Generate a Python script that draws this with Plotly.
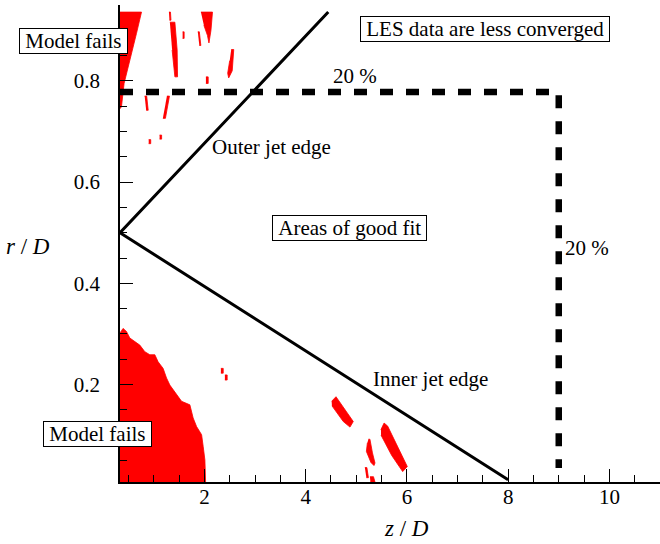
import plotly.graph_objects as go

# ---------------- data (z/D, r/D) ----------------
# Large failing region near the nozzle centreline
fail_core_z = [0.333, 0.333, 0.394, 0.461, 0.527, 0.625, 0.724, 0.823, 0.922, 1.021, 1.086, 1.185,
               1.252, 1.318, 1.417, 1.549, 1.713, 1.778, 1.846, 1.945, 1.976, 2.010, 2.024]
fail_core_r = [0.0075, 0.302, 0.311, 0.305, 0.292, 0.285, 0.278, 0.265, 0.259, 0.259, 0.245, 0.232,
               0.213, 0.199, 0.186, 0.167, 0.160, 0.134, 0.117, 0.101, 0.078, 0.051, 0.0075]

# Failing wedge at the top-left (outer region)
fail_wedge_z = [0.333, 0.758, 0.659, 0.493, 0.414, 0.362, 0.333]
fail_wedge_r = [0.936, 0.936, 0.894, 0.828, 0.795, 0.749, 0.745]

# Small scattered failing patches
patch1_z = [1.318, 1.417, 1.462, 1.470, 1.417, 1.363]
patch1_r = [0.916, 0.916, 0.861, 0.808, 0.808, 0.861]
patch2_z = [1.300, 1.330, 1.340, 1.310]
patch2_r = [0.936, 0.936, 0.920, 0.920]
patch3_z = [1.931, 2.160, 2.130, 2.090, 2.060, 1.990]
patch3_r = [0.936, 0.936, 0.900, 0.875, 0.890, 0.910]
patch4_z = [1.870, 1.900, 1.930, 1.900]
patch4_r = [0.897, 0.897, 0.870, 0.870]
patch5_z = [1.570, 1.600, 1.600, 1.570]
patch5_r = [0.897, 0.897, 0.884, 0.884]
patch6_z = [2.530, 2.580, 2.550, 2.480, 2.460, 2.500]
patch6_r = [0.862, 0.862, 0.820, 0.806, 0.815, 0.840]
patch7_z = [2.030, 2.075, 2.075, 2.030]
patch7_r = [0.808, 0.808, 0.795, 0.795]
patch8_z = [0.820, 0.860, 0.890, 0.850]
patch8_r = [0.770, 0.770, 0.742, 0.742]
patch9_z = [1.260, 1.310, 1.230, 1.180]
patch9_r = [0.770, 0.770, 0.726, 0.726]
patch10_z = [0.900, 0.940, 0.940, 0.900]
patch10_r = [0.684, 0.684, 0.676, 0.676]
patch11_z = [1.115, 1.155, 1.155, 1.115]
patch11_r = [0.693, 0.693, 0.685, 0.685]
patch12_z = [2.326, 2.372, 2.372, 2.326]
patch12_r = [0.232, 0.232, 0.2225, 0.2225]
patch13_z = [2.405, 2.450, 2.450, 2.405]
patch13_r = [0.219, 0.219, 0.209, 0.209]
patch14_z = [4.514, 4.600, 4.941, 4.876, 4.743, 4.520]
patch14_r = [0.167, 0.176, 0.127, 0.116, 0.127, 0.158]
patch15_z = [5.488, 5.550, 5.620, 6.008, 5.917, 5.700, 5.490]
patch15_r = [0.111, 0.124, 0.118, 0.038, 0.028, 0.060, 0.100]
patch16_z = [5.240, 5.270, 5.320, 5.370, 5.350, 5.290, 5.200, 5.220]
patch16_r = [0.092, 0.092, 0.065, 0.045, 0.040, 0.046, 0.068, 0.085]
patch17_z = [5.170, 5.210, 5.240, 5.200]
patch17_r = [0.036, 0.036, 0.016, 0.016]
patch18_z = [5.270, 5.340, 5.370, 5.280]
patch18_r = [0.018, 0.018, 0.0075, 0.0075]

# Jet edges (outer edge top end, vertex, inner edge end)
jet_edge_z = [4.447, 0.333, 8.0]
jet_edge_r = [0.936, 0.500, 0.012]

# 20 % convergence limit
limit_z = [0.333, 9.0, 9.0]
limit_r = [0.778, 0.778, 0.035]

x_ticks = [2, 4, 6, 8, 10]
y_ticks = [0.2, 0.4, 0.6, 0.8]
x_range = [0.333, 11.0]
y_range = [0.0075, 0.95]

# ---------------- figure ----------------
regions = [
    (fail_core_z, fail_core_r), (fail_wedge_z, fail_wedge_r),
    (patch1_z, patch1_r), (patch2_z, patch2_r), (patch3_z, patch3_r), (patch4_z, patch4_r),
    (patch5_z, patch5_r), (patch6_z, patch6_r), (patch7_z, patch7_r), (patch8_z, patch8_r),
    (patch9_z, patch9_r), (patch10_z, patch10_r), (patch11_z, patch11_r), (patch12_z, patch12_r),
    (patch13_z, patch13_r), (patch14_z, patch14_r), (patch15_z, patch15_r), (patch16_z, patch16_r),
    (patch17_z, patch17_r), (patch18_z, patch18_r),
]

fig = go.Figure()
for zz, rr in regions:
    fig.add_trace(go.Scatter(x=zz, y=rr, mode="lines", fill="toself", fillcolor="#ff0000",
                             line=dict(color="#ff0000", width=0.8), hoverinfo="skip",
                             showlegend=False))

fig.add_trace(go.Scatter(x=limit_z, y=limit_r, mode="lines",
                         line=dict(color="black", width=6.5, dash="13px,13px"),
                         showlegend=False))
fig.add_trace(go.Scatter(x=jet_edge_z, y=jet_edge_r, mode="lines",
                         line=dict(color="black", width=3), showlegend=False))

FONT = "Liberation Serif, Times New Roman, serif"
tfont = dict(family=FONT, size=21, color="black")

box = dict(bordercolor="black", borderwidth=1, bgcolor="white", borderpad=0, showarrow=False,
           font=tfont, xanchor="center", yanchor="middle")
plain = dict(showarrow=False, font=tfont, xanchor="center", yanchor="middle")
NB = "&nbsp;"

annotations = [
    dict(text=NB + "Model fails" + NB, xref="paper", yref="paper", x=-0.0866, y=0.925, **box),
    dict(text=NB + "Model fails" + NB, xref="paper", yref="paper", x=-0.0411, y=0.100, **box),
    dict(text=NB + "LES data are less converged" + NB, x=7.544, y=0.903, **box),
    dict(text=NB + "Areas of good fit" + NB, x=4.874, y=0.509, **box),
    dict(text="20 %", x=4.974, y=0.809, **plain),
    dict(text="20 %", x=9.553, y=0.469, **plain),
    dict(text="Outer jet edge", x=3.316, y=0.670, **plain),
    dict(text="Inner jet edge", x=6.476, y=0.211, **plain),
    dict(text="<i>r</i> / <i>D</i>", xref="paper", yref="paper", x=-0.171, y=0.4927,
         showarrow=False, xanchor="center", yanchor="middle",
         font=dict(family=FONT, size=23, color="black")),
    dict(text="<i>z</i> / <i>D</i>", xref="paper", yref="paper", x=0.531, y=-0.098,
         showarrow=False, xanchor="center", yanchor="middle",
         font=dict(family=FONT, size=23, color="black")),
]

fig.update_layout(
    width=660, height=544,
    margin=dict(l=120, r=0, t=5, b=62),
    paper_bgcolor="white", plot_bgcolor="white",
    annotations=annotations,
    showlegend=False,
)
fig.update_xaxes(range=x_range, tickvals=x_ticks, ticks="inside", ticklen=13, tickwidth=1.2,
                 tickcolor="black", showline=True, linecolor="black", linewidth=1.5,
                 showgrid=False, zeroline=False, tickfont=tfont, ticklabelstandoff=-5,
                 minor=dict(dtick=0.5, tick0=0, ticks="inside", ticklen=7, tickwidth=1.2,
                            tickcolor="black", showgrid=False))
fig.update_yaxes(range=y_range, tickvals=y_ticks, ticks="inside", ticklen=13, tickwidth=1.2,
                 tickcolor="black", showline=True, linecolor="black", linewidth=1.5,
                 showgrid=False, zeroline=False, tickfont=tfont, ticklabelstandoff=14,
                 minor=dict(dtick=0.05, tick0=0, ticks="inside", ticklen=7, tickwidth=1.2,
                            tickcolor="black", showgrid=False))

fig.write_html("out.html", config={"displayModeBar": False},
               post_script="document.body.style.margin='0px';")
